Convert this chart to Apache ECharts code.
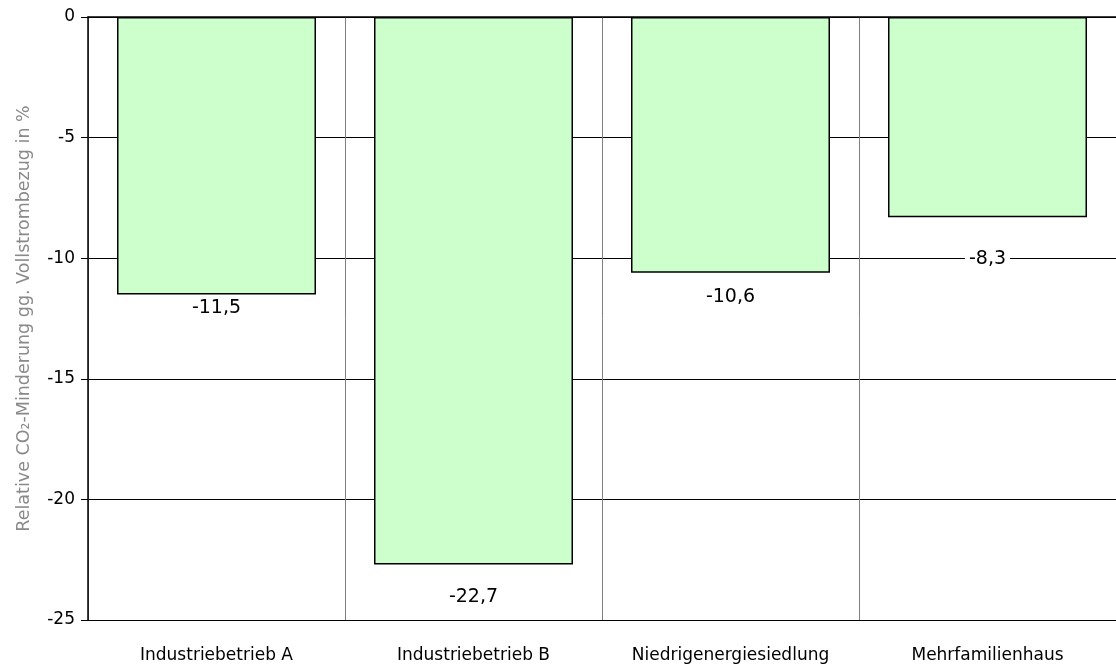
<!DOCTYPE html>
<html>
<head>
<meta charset="utf-8">
<style>
  html, body { margin: 0; padding: 0; background: #fff; }
  #chart { width: 1116px; height: 664px; }
</style>
<script src="https://cdn.jsdelivr.net/npm/echarts@6/dist/echarts.min.js"></script>
</head>
<body>
<div id="chart"></div>
<script>
// Kategorien und Werte
const categories = ['Industriebetrieb A', 'Industriebetrieb B', 'Niedrigenergiesiedlung', 'Mehrfamilienhaus']
const reduction = [-11.5, -22.7, -10.6, -8.3]
const yTicks = { min: -25, max: 0, step: 5 }

// Abstand der Beschriftung unter dem Balken (wie im Original manuell verschoben)
const labelGap = [3, 22, 14, 31]

const chart = echarts.init(document.getElementById('chart'))

const option = {
  animation: false,
  textStyle: { fontFamily: 'DejaVu Sans, sans-serif' },
  grid: {
    left: 88,
    right: -6,
    top: 17,
    bottom: 44
  },
  xAxis: {
    type: 'category',
    data: categories,
    axisLine: { lineStyle: { color: '#000', width: 1.5 } },
    axisTick: { show: false },
    axisLabel: { color: '#000', fontSize: 17, margin: 27 },
    splitLine: { show: true, lineStyle: { color: '#808080', width: 1 } }
  },
  yAxis: {
    type: 'value',
    min: yTicks.min,
    max: yTicks.max,
    interval: yTicks.step,
    name: 'Relative CO₂-Minderung gg. Vollstrombezug in %',
    nameLocation: 'middle',
    nameGap: 55,
    nameTextStyle: { color: '#8a8a8a', fontSize: 17.5 },
    axisLine: { show: true, lineStyle: { color: '#000', width: 1.5 } },
    axisTick: { show: true, length: 7, lineStyle: { color: '#000' } },
    axisLabel: { color: '#000', fontSize: 17, margin: 13 },
    splitLine: { show: true, lineStyle: { color: '#000', width: 1 } }
  },
  series: [
    {
      type: 'bar',
      barWidth: 199,
      data: reduction.map((v, i) => ({
        value: v,
        label: { distance: labelGap[i] }
      })),
      itemStyle: {
        color: '#ccffcc',
        borderColor: '#000',
        borderWidth: 1.5
      },
      label: {
        show: true,
        position: 'bottom',
        color: '#000',
        fontSize: 19,
        backgroundColor: '#fff',
        padding: [1, 4],
        formatter: p => String(p.value).replace('.', ',')
      }
    }
  ]
}

chart.setOption(option)
</script>
</body>
</html>
